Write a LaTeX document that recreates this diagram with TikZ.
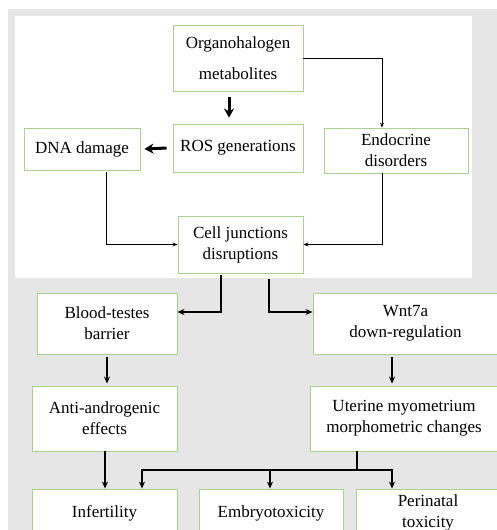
\documentclass[tikz,border=0pt]{standalone}
\usepackage{fontspec}
\setmainfont{Liberation Serif}
\usepackage{xcolor}
\usetikzlibrary{positioning, arrows.meta, calc}

\definecolor{bggray}{HTML}{E7E6E6}
\definecolor{boxgreen}{HTML}{A9D18E}

\begin{document}
\begin{tikzpicture}[
        x=1pt, y=-1pt,
        box/.style = {draw=boxgreen, fill=white, line width=0.9pt, align=center, inner sep=0pt, font=\fontsize{17}{21}\selectfont},
        thinarrow/.style = {-{Stealth[length=5pt, width=4pt]}, line width=0.9pt},
        link/.style = {-{Stealth[length=7pt, width=6pt]}, line width=1.8pt},
        boldarrow/.style = {-{Stealth[length=9pt, width=10pt]}, line width=3pt}
      ]
      \clip (0,0) rectangle (497,530);

      % ================= BACKGROUND =================
      \fill[bggray] (8,9) rectangle (497,530);
      \fill[white] (15,16) rectangle (472,278);

      % ================= TOP PANEL =================
      \node[box, minimum width=130pt, minimum height=66pt, font=\fontsize{17}{31}\selectfont] (organo) at (238,58) {Organohalogen\\metabolites};
      \node[box, minimum width=130pt, minimum height=48pt] (ros) at (238,148) {ROS generations};
      \node[box, minimum width=116pt, minimum height=42pt] (dna) at (82,149) {DNA damage};
      \node[box, minimum width=144pt, minimum height=45pt] (endo) at (396,150.5) {Endocrine\\disorders};
      \node[box, minimum width=125pt, minimum height=57pt] (cell) at (240.5,244.5) {Cell junctions\\disruptions};

      \draw[boldarrow] ([xshift=-9pt, yshift=-6pt]organo.south) -- ([xshift=-9pt, yshift=6pt]ros.north);
      \draw[boldarrow] ([xshift=-6pt]ros.west) -- ([xshift=4pt]dna.east);
      \draw[thinarrow] (organo.east) -| ([xshift=-14pt]endo.north);
      \draw[thinarrow] ([xshift=24pt, yshift=-2pt]dna.south) |- (cell.west);
      \draw[thinarrow] ([xshift=-14pt]endo.south) |- (cell.east);

      % ================= LOWER PANEL =================
      \node[box, minimum width=140pt, minimum height=61pt] (blood) at (107,323.5) {Blood-testes\\barrier};
      \node[box, minimum width=185pt, minimum height=61pt] (wnt) at (405.5,323.5) {Wnt7a\\down-regulation};
      \node[box, minimum width=145pt, minimum height=65pt] (anti) at (104.5,418.5) {Anti-androgenic\\effects};
      \node[box, minimum width=188pt, minimum height=65pt] (uterine) at (404,418.5) {Uterine myometrium\\morphometric changes};
      \node[box, minimum width=145pt, minimum height=48pt] (infert) at (104.5,513) {Infertility};
      \node[box, minimum width=144pt, minimum height=48pt] (embryo) at (271,513) {Embryotoxicity};
      \node[box, minimum width=144pt, minimum height=48pt] (perinat) at (428,513) {Perinatal\\toxicity};

      \draw[link] ([xshift=-19.5pt, yshift=-2pt]cell.south) |- ([yshift=11.5pt]blood.east);
      \draw[link] ([xshift=28.5pt, yshift=-6pt]cell.south) |- ([yshift=11.5pt]wnt.west);
      \draw[link] ([yshift=-3pt]blood.south) -- ([yshift=2pt]blood.south |- anti.north);
      \draw[link] ([xshift=-13.5pt, yshift=-3pt]wnt.south) -- ([xshift=-13.5pt, yshift=2pt]wnt.south |- uterine.north);
      \draw[link] ([xshift=0.5pt]anti.south) -- ([xshift=0.5pt]anti.south |- infert.north);

      % branch to the three outcomes
      \coordinate (split) at (357,470);
      \draw[line width=1.8pt] ([xshift=-47pt]uterine.south) -- (split);
      \draw[link] (split) -| ([xshift=37.5pt]infert.north);
      \draw[link] (split) -| ([xshift=-1pt]embryo.north);
      \draw[link] (split) -| ([xshift=-36pt]perinat.north);

    \end{tikzpicture}
\end{document}
